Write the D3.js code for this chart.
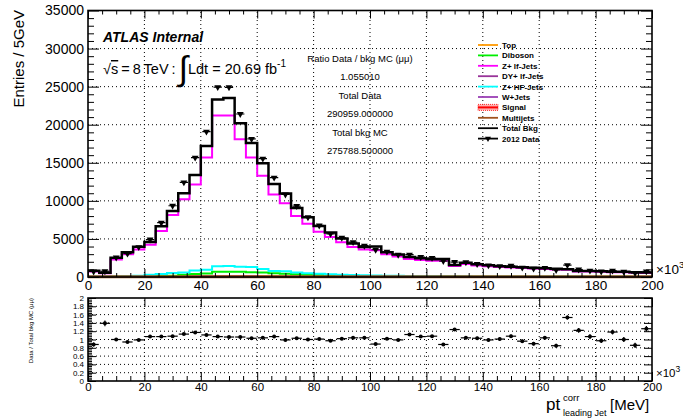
<!DOCTYPE html>
<html>
<head>
<meta charset="utf-8">
<script src="https://cdn.jsdelivr.net/npm/d3@7"></script>
<style>
  body { margin: 0; background: #fff; }
  svg { display: block; font-family: "Liberation Sans", Arial, sans-serif; }
</style>
</head>
<body>
<div id="chart"></div>
<script>
// leading jet pt spectrum, 4 GeV bins (x axis in units of 10^3 MeV)
const binLow = d3.range(0, 200, 4);

const totalBkg = [820, 550, 2520, 3260, 3960, 4600, 6660, 8670, 11000, 13400,
  17200, 23300, 23500, 20200, 17600, 14950, 12200, 10950, 9050, 7850,
  6700, 5830, 5050, 4400, 3950, 4020, 3260, 2950, 2620, 2450,
  2320, 2380, 1580, 1860, 1660, 1540, 1420, 1360, 1280, 1220,
  1140, 1080, 1020, 800, 780, 740, 700, 680, 620, 580];

const zLfJets = [720, 480, 2300, 3000, 3600, 4250, 6050, 8150, 10200, 12150,
  15700, 21200, 21200, 18100, 15700, 13300, 10850, 9700, 8000, 7000,
  5950, 5250, 4550, 3950, 3600, 3500, 3000, 2700, 2380, 2220,
  2120, 2150, 1450, 1700, 1520, 1420, 1300, 1250, 1180, 1120,
  1050, 1000, 940, 730, 720, 680, 640, 620, 570, 530];

const zHfJets = [50, 50, 80, 100, 150, 300, 380, 520, 600, 850,
  950, 1420, 1450, 1360, 1300, 1050, 800, 750, 600, 500,
  420, 360, 300, 260, 220, 200, 180, 160, 140, 130,
  120, 110, 100, 90, 80, 80, 70, 70, 60, 60,
  50, 50, 50, 50, 40, 40, 40, 40, 30, 30];

const diboson = [10, 10, 20, 30, 50, 80, 120, 180, 300, 400,
  450, 680, 700, 680, 620, 580, 500, 420, 350, 300,
  250, 200, 170, 150, 130, 110, 100, 90, 80, 70,
  60, 55, 50, 45, 40, 40, 35, 35, 30, 30,
  30, 25, 25, 25, 20, 20, 20, 20, 15, 15];

const topQuark = [5, 5, 10, 15, 20, 25, 35, 45, 60, 75,
  90, 110, 120, 115, 105, 95, 85, 75, 65, 55,
  50, 45, 40, 35, 30, 28, 25, 22, 20, 18,
  16, 15, 14, 13, 12, 11, 10, 10, 9, 9,
  8, 8, 7, 7, 6, 6, 6, 5, 5, 5];

const dyLfJets = [30, 20, 40, 40, 40, 35, 35, 30, 30, 25,
  25, 25, 20, 20, 20, 15, 15, 15, 12, 12,
  10, 10, 10, 8, 8, 8, 6, 6, 6, 5,
  5, 5, 5, 4, 4, 4, 4, 3, 3, 3,
  3, 3, 2, 2, 2, 2, 2, 2, 2, 2];

const wJets = [10, 10, 15, 20, 25, 30, 35, 40, 45, 50,
  55, 60, 60, 55, 50, 45, 40, 35, 30, 28,
  25, 22, 20, 18, 16, 15, 14, 13, 12, 11,
  10, 10, 9, 9, 8, 8, 7, 7, 6, 6,
  6, 5, 5, 5, 5, 4, 4, 4, 4, 4];

const signal = [0, 0, 0, 0, 0, 0, 0, 0, 0, 0,
  0, 0, 0, 0, 0, 0, 0, 0, 0, 5,
  10, 20, 30, 45, 60, 70, 80, 85, 80, 70,
  55, 40, 30, 20, 10, 5, 0, 0, 0, 0,
  0, 0, 0, 0, 0, 0, 0, 0, 0, 0];

const multijets = [20, 20, 20, 20, 20, 20, 20, 20, 20, 20,
  20, 20, 20, 20, 20, 20, 20, 20, 20, 20,
  20, 20, 20, 20, 20, 20, 20, 20, 20, 20,
  20, 20, 20, 20, 20, 20, 20, 20, 20, 20,
  20, 20, 20, 20, 20, 20, 20, 20, 20, 20];

const data2012 = [720, 760, 2550, 3060, 3920, 4920, 7130, 9360, 12430, 15680,
  19090, 24930, 24910, 21410, 18130, 15550, 13050, 10840, 9320, 7850,
  6770, 5660, 5150, 4580, 4110, 3580, 3330, 2920, 2930, 2620,
  2510, 2090, 1960, 1930, 1710, 1520, 1430, 1470, 1230, 1100,
  1190, 920, 1560, 980, 830, 720, 830, 680, 530, 730];

const ratio = [0.88, 1.39, 1.00, 0.94, 0.99, 1.07, 1.07, 1.08, 1.13, 1.17,
  1.11, 1.07, 1.06, 1.06, 1.03, 1.04, 1.07, 0.99, 1.03, 1.00,
  1.01, 0.97, 1.02, 1.04, 1.04, 0.89, 1.02, 0.99, 1.12, 1.07,
  1.08, 0.88, 1.24, 1.04, 1.03, 0.99, 1.01, 1.08, 0.96, 0.90,
  1.04, 0.85, 1.53, 1.22, 1.07, 0.97, 1.18, 1.00, 0.86, 1.26];

const ratioErr = [0.05, 0.07, 0.03, 0.02, 0.02, 0.02, 0.015, 0.012, 0.01, 0.01,
  0.01, 0.008, 0.008, 0.008, 0.01, 0.01, 0.01, 0.012, 0.012, 0.014,
  0.015, 0.016, 0.018, 0.02, 0.02, 0.02, 0.022, 0.024, 0.026, 0.026,
  0.028, 0.028, 0.035, 0.032, 0.034, 0.036, 0.038, 0.04, 0.04, 0.042,
  0.044, 0.045, 0.05, 0.055, 0.055, 0.056, 0.058, 0.06, 0.062, 0.065];

const summaryLines = ["Ratio Data / bkg MC (\u03bc\u03bc)", "1.055010", "Total Data",
  "290959.000000", "Total bkg MC", "275788.500000"];

// background components, drawn back to front
const components = [
  { name: "Top", values: topQuark, color: "#ff9900" },
  { name: "W+Jets", values: wJets, color: "#9a3fb5" },
  { name: "DY+ lf-Jets", values: dyLfJets, color: "#993399" },
  { name: "Signal", values: signal, color: "#ff0000" },
  { name: "Diboson", values: diboson, color: "#00ee00" },
  { name: "Z+ HF-Jets", values: zHfJets, color: "#00ffff" },
  { name: "Z+ lf-Jets", values: zLfJets, color: "#ff00ff" },
  { name: "Multijets", values: multijets, color: "#a0521e" }
];

const legendItems = [
  { name: "Top", color: "#ff9900" },
  { name: "Diboson", color: "#00ee00" },
  { name: "Z+ lf-Jets", color: "#ff00ff" },
  { name: "DY+ lf-Jets", color: "#993399" },
  { name: "Z+ HF-Jets", color: "#00ffff" },
  { name: "W+Jets", color: "#9a3fb5" },
  { name: "Signal", color: "#ff0000", hatched: true },
  { name: "Multijets", color: "#a0521e" },
  { name: "Total Bkg", color: "#000" },
  { name: "2012 Data", color: "#000", marker: true }
];

const W = 683, H = 418;
const svg = d3.select("#chart").append("svg")
  .attr("width", W).attr("height", H);

// scales
const x = d3.scaleLinear().domain([0, 200]).range([88, 652]);
const y = d3.scaleLinear().domain([0, 35000]).range([277, 10.5]);
const yr = d3.scaleLinear().domain([0, 2]).range([381, 298]);

const binW = 4;
const dotted = "1,3";

function stepPoints(vals) {
  const pts = binLow.map((b, i) => [b, vals[i]]);
  pts.push([200, vals[vals.length - 1]]);
  return pts;
}

// ---------- top pad ----------
const topPad = svg.append("g");

// grid
topPad.append("g").selectAll("line")
  .data(d3.range(20, 200, 20))
  .join("line")
  .attr("x1", d => x(d)).attr("x2", d => x(d))
  .attr("y1", y(0)).attr("y2", y(35000))
  .attr("stroke", "#000").attr("stroke-width", 1).attr("stroke-dasharray", dotted);
topPad.append("g").selectAll("line")
  .data(d3.range(5000, 35000, 5000))
  .join("line")
  .attr("x1", x(0)).attr("x2", x(200))
  .attr("y1", d => y(d)).attr("y2", d => y(d))
  .attr("stroke", "#000").attr("stroke-width", 1).attr("stroke-dasharray", dotted);

svg.append("clipPath").attr("id", "clipTop")
  .append("rect").attr("x", x(0)).attr("y", y(35000))
  .attr("width", x(200) - x(0)).attr("height", y(0) - y(35000) + 2);

const plot = topPad.append("g").attr("clip-path", "url(#clipTop)");

const step = d3.line()
  .curve(d3.curveStepAfter)
  .x(d => x(d[0]))
  .y(d => y(d[1]));

components.forEach(c => {
  plot.append("path")
    .datum(stepPoints(c.values))
    .attr("fill", "none")
    .attr("stroke", c.color)
    .attr("stroke-width", c.name === "Multijets" ? 3 : 2)
    .attr("d", step);
});

plot.append("path")
  .datum(stepPoints(totalBkg))
  .attr("fill", "none")
  .attr("stroke", "#000")
  .attr("stroke-width", 2.5)
  .attr("d", step);

// data points: inverted triangles with bin-width bars
const dataG = plot.append("g");
dataG.selectAll("line")
  .data(data2012)
  .join("line")
  .attr("x1", (d, i) => x(binLow[i]) + 1.5)
  .attr("x2", (d, i) => x(binLow[i] + binW) - 1.5)
  .attr("y1", d => y(d)).attr("y2", d => y(d))
  .attr("stroke", "#000").attr("stroke-width", 1.2);
dataG.selectAll("path")
  .data(data2012)
  .join("path")
  .attr("d", d3.symbol(d3.symbolTriangle, 20))
  .attr("transform", (d, i) => `translate(${x(binLow[i] + binW / 2)},${y(d)}) rotate(180)`)
  .attr("fill", "#000");

// axes + ticks (ROOT style, inside, mirrored)
function tickAxis(g, axis) {
  g.call(axis);
  g.select(".domain").remove();
  g.selectAll("line").attr("stroke", "#000").attr("stroke-width", 1);
  return g;
}

const yMajor = d3.range(0, 35001, 5000);
const yMinor = d3.range(0, 35001, 1000).filter(v => v % 5000 !== 0);
const xMajor = d3.range(0, 201, 20);
const xMinor = d3.range(0, 201, 5).filter(v => v % 20 !== 0);

tickAxis(topPad.append("g").attr("transform", `translate(${x(0)},0)`),
  d3.axisLeft(y).tickValues(yMajor).tickSize(-11).tickPadding(4).tickFormat(d3.format("d")))
  .selectAll("text").attr("font-size", 14).attr("fill", "#000");
tickAxis(topPad.append("g").attr("transform", `translate(${x(0)},0)`),
  d3.axisLeft(y).tickValues(yMinor).tickSize(-6).tickFormat(""));
tickAxis(topPad.append("g").attr("transform", `translate(${x(200)},0)`),
  d3.axisRight(y).tickValues(yMajor).tickSize(-11).tickFormat(""));
tickAxis(topPad.append("g").attr("transform", `translate(${x(200)},0)`),
  d3.axisRight(y).tickValues(yMinor).tickSize(-6).tickFormat(""));

tickAxis(topPad.append("g").attr("transform", `translate(0,${y(0)})`),
  d3.axisBottom(x).tickValues(xMajor).tickSize(-8).tickPadding(3).tickFormat(d3.format("d")))
  .selectAll("text").attr("font-size", 13.5).attr("fill", "#000");
tickAxis(topPad.append("g").attr("transform", `translate(0,${y(0)})`),
  d3.axisBottom(x).tickValues(xMinor).tickSize(-4).tickFormat(""));
tickAxis(topPad.append("g").attr("transform", `translate(0,${y(35000)})`),
  d3.axisTop(x).tickValues(xMajor).tickSize(-8).tickFormat(""));
tickAxis(topPad.append("g").attr("transform", `translate(0,${y(35000)})`),
  d3.axisTop(x).tickValues(xMinor).tickSize(-4).tickFormat(""));

topPad.append("rect")
  .attr("x", x(0)).attr("y", y(35000))
  .attr("width", x(200) - x(0)).attr("height", y(0) - y(35000))
  .attr("fill", "none").attr("stroke", "#000").attr("stroke-width", 1.6);

// axis titles
svg.append("text")
  .attr("transform", "translate(24,10) rotate(-90)")
  .attr("text-anchor", "end")
  .attr("font-size", 15)
  .text("Entries / 5GeV");

const exp1 = svg.append("text").attr("x", 656).attr("y", 274).attr("font-size", 13.5);
exp1.append("tspan").text("\u00d710");
exp1.append("tspan").attr("dy", -6).attr("font-size", 9.5).text("3");

// ATLAS labels
svg.append("text")
  .attr("x", 103).attr("y", 42)
  .attr("font-size", 14).attr("font-weight", "bold").attr("font-style", "italic")
  .text("ATLAS Internal");

const lumi = svg.append("text").attr("x", 103).attr("y", 74).attr("font-size", 14.5)
  .attr("word-spacing", -1);
lumi.append("tspan").text("\u221a");
lumi.append("tspan").attr("text-decoration", "overline").text("s");
lumi.append("tspan").text(" = 8 TeV : ");
lumi.append("tspan").attr("font-size", 34).attr("dy", 6).text("\u222b");
lumi.append("tspan").attr("dy", -6).attr("word-spacing", 0).text("Ldt = 20.69 fb");
lumi.append("tspan").attr("dy", -7).attr("font-size", 10).text("-1");

// summary numbers
svg.append("g").selectAll("text")
  .data(summaryLines)
  .join("text")
  .attr("x", 360)
  .attr("y", (d, i) => 62 + i * 18.4)
  .attr("text-anchor", "middle")
  .attr("font-size", 9.5)
  .text(d => d);

// legend
const legend = svg.append("g").attr("transform", "translate(478,45)");
legendItems.forEach((d, i) => {
  const row = legend.append("g").attr("transform", `translate(0,${i * 10.4})`);
  if (d.hatched) {
    row.append("rect").attr("x", 0).attr("y", -3).attr("width", 20).attr("height", 6)
      .attr("fill", "#ffb0b0").attr("stroke", d.color).attr("stroke-width", 0.8)
      .attr("stroke-dasharray", "1,1");
  }
  row.append("line")
    .attr("x1", 0).attr("x2", 20).attr("y1", 0).attr("y2", 0)
    .attr("stroke", d.color).attr("stroke-width", d.hatched ? 2 : 1.8);
  if (d.marker) {
    row.append("path")
      .attr("d", d3.symbol(d3.symbolTriangle, 16))
      .attr("transform", "translate(10,0) rotate(180)")
      .attr("fill", "#000");
  }
  row.append("text")
    .attr("x", 24).attr("y", 3)
    .attr("font-size", 8).attr("font-weight", "bold")
    .text(d.name);
});

// ---------- ratio pad ----------
const botPad = svg.append("g");

botPad.append("g").selectAll("line")
  .data(d3.range(20, 200, 20))
  .join("line")
  .attr("x1", d => x(d)).attr("x2", d => x(d))
  .attr("y1", yr(0)).attr("y2", yr(2))
  .attr("stroke", "#000").attr("stroke-width", 1).attr("stroke-dasharray", dotted);
botPad.append("g").selectAll("line")
  .data(d3.range(1, 10).map(v => v * 0.2))
  .join("line")
  .attr("x1", x(0)).attr("x2", x(200))
  .attr("y1", d => yr(d)).attr("y2", d => yr(d))
  .attr("stroke", "#000").attr("stroke-width", 1).attr("stroke-dasharray", dotted);

const rG = botPad.append("g");
rG.selectAll("line.h")
  .data(ratio)
  .join("line").attr("class", "h")
  .attr("x1", (d, i) => x(binLow[i]) + 0.5)
  .attr("x2", (d, i) => x(binLow[i] + binW) - 0.5)
  .attr("y1", d => yr(d)).attr("y2", d => yr(d))
  .attr("stroke", "#000").attr("stroke-width", 1.2);
rG.selectAll("line.v")
  .data(ratio)
  .join("line").attr("class", "v")
  .attr("x1", (d, i) => x(binLow[i] + binW / 2))
  .attr("x2", (d, i) => x(binLow[i] + binW / 2))
  .attr("y1", (d, i) => yr(d - ratioErr[i]))
  .attr("y2", (d, i) => yr(d + ratioErr[i]))
  .attr("stroke", "#000").attr("stroke-width", 1.2);
rG.selectAll("circle")
  .data(ratio)
  .join("circle")
  .attr("cx", (d, i) => x(binLow[i] + binW / 2))
  .attr("cy", d => yr(d))
  .attr("r", 2)
  .attr("fill", "#000");

const rMajor = d3.range(0, 11).map(v => v * 0.2);
const rMinor = d3.range(0, 51).map(v => v * 0.04);

tickAxis(botPad.append("g").attr("transform", `translate(${x(0)},0)`),
  d3.axisLeft(yr).tickValues(rMajor).tickSize(-8).tickPadding(4)
    .tickFormat(d => String(+d.toFixed(1))))
  .selectAll("text").attr("font-size", 8).attr("fill", "#000");
tickAxis(botPad.append("g").attr("transform", `translate(${x(0)},0)`),
  d3.axisLeft(yr).tickValues(rMinor).tickSize(-4).tickFormat(""));
tickAxis(botPad.append("g").attr("transform", `translate(${x(200)},0)`),
  d3.axisRight(yr).tickValues(rMajor).tickSize(-8).tickFormat(""));
tickAxis(botPad.append("g").attr("transform", `translate(0,${yr(0)})`),
  d3.axisBottom(x).tickValues(xMajor).tickSize(-9).tickPadding(2).tickFormat(d3.format("d")))
  .selectAll("text").attr("font-size", 11.5).attr("fill", "#000");
tickAxis(botPad.append("g").attr("transform", `translate(0,${yr(0)})`),
  d3.axisBottom(x).tickValues(xMinor).tickSize(-5).tickFormat(""));
tickAxis(botPad.append("g").attr("transform", `translate(0,${yr(2)})`),
  d3.axisTop(x).tickValues(xMajor).tickSize(-9).tickFormat(""));

botPad.append("rect")
  .attr("x", x(0)).attr("y", yr(2))
  .attr("width", x(200) - x(0)).attr("height", yr(0) - yr(2))
  .attr("fill", "none").attr("stroke", "#000").attr("stroke-width", 1.6);

svg.append("text")
  .attr("transform", "translate(33,298) rotate(-90)")
  .attr("text-anchor", "end")
  .attr("font-size", 6)
  .text("Data / Total bkg MC (\u03bc\u03bc)");

const exp2 = svg.append("text").attr("x", 656).attr("y", 377).attr("font-size", 11.5);
exp2.append("tspan").text("\u00d710");
exp2.append("tspan").attr("dy", -5).attr("font-size", 8.5).text("3");

// x title: pt^corr_{leading Jet} [MeV]
const xt = svg.append("g");
xt.append("text").attr("x", 546).attr("y", 410).attr("font-size", 17).text("pt");
xt.append("text").attr("x", 563).attr("y", 401).attr("font-size", 9.5).text("corr");
xt.append("text").attr("x", 563).attr("y", 416).attr("font-size", 9).text("leading Jet");
xt.append("text").attr("x", 610).attr("y", 410).attr("font-size", 15).text("[MeV]");
</script>
</body>
</html>
